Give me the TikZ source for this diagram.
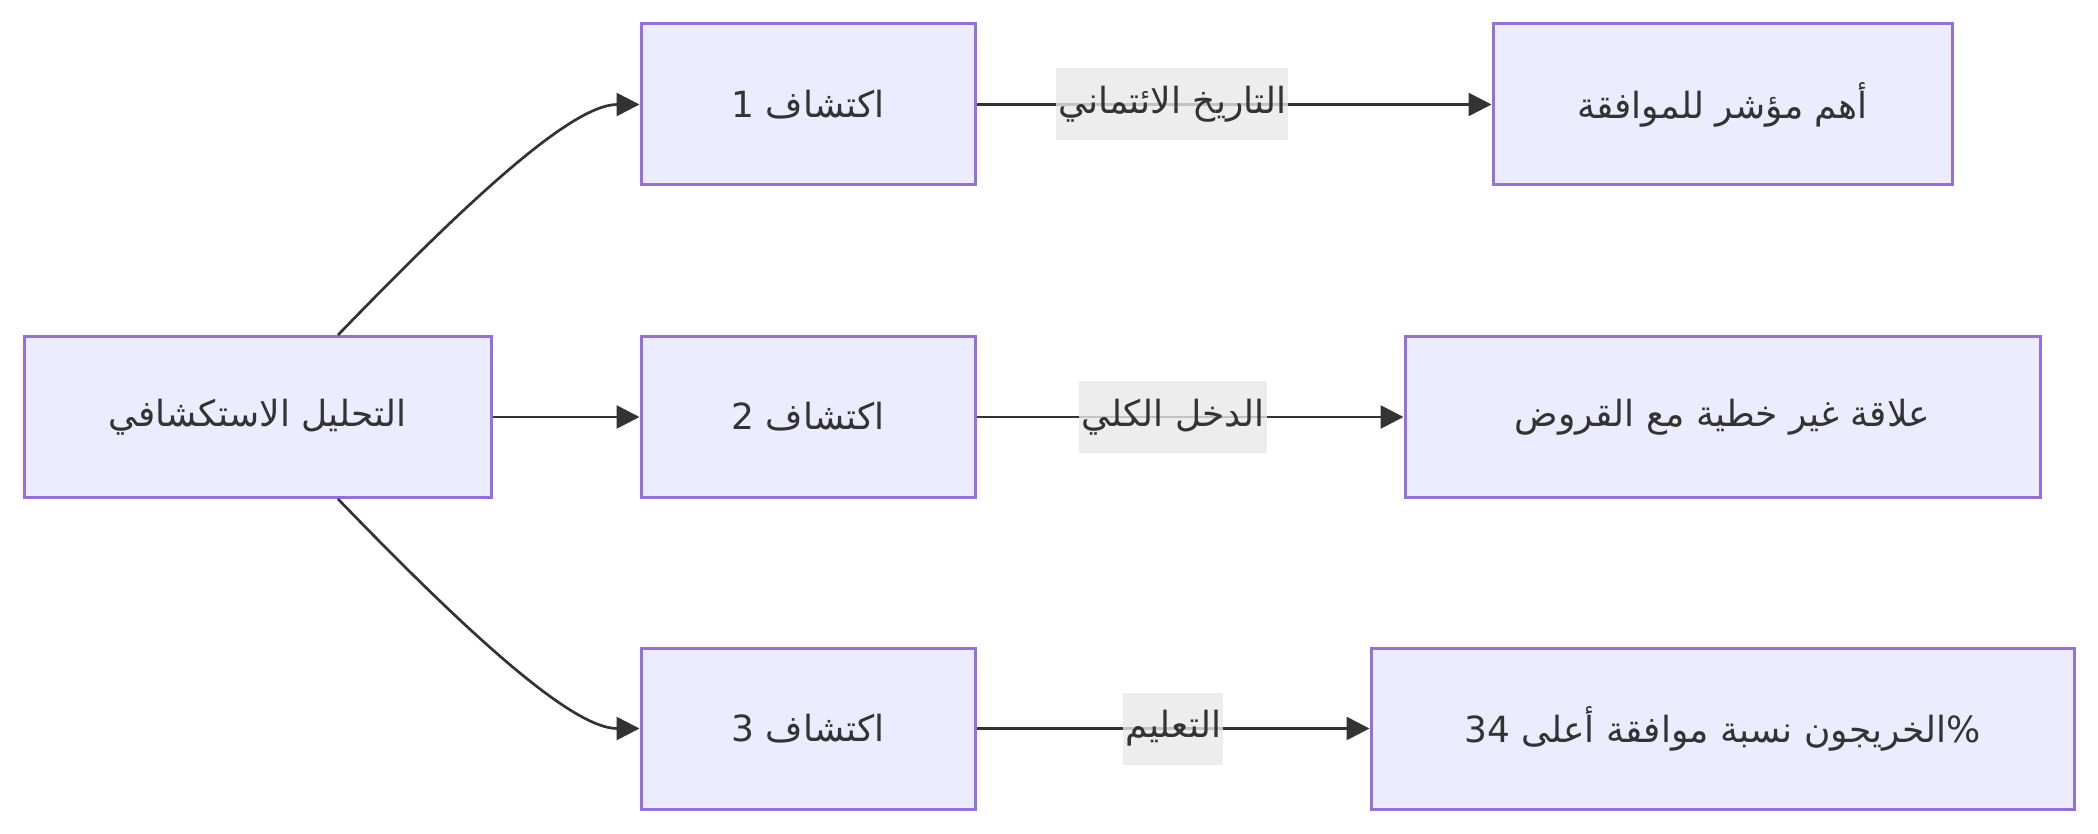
\documentclass[tikz,border=0pt]{standalone}
\usepackage{fontspec}
\newfontfamily\arabicfont[Script=Arabic]{DejaVu Sans}
\TeXXeTstate=1
\usetikzlibrary{arrows.meta}
\definecolor{boxfill}{HTML}{ECECFF}
\definecolor{boxline}{HTML}{9370DB}
\definecolor{edgeline}{HTML}{333333}
\definecolor{labelfill}{HTML}{E8E8E8}
\newcommand{\artext}[1]{\beginR #1\endR}
\tikzset{
  box/.style={draw=boxline, fill=boxfill, line width=1.5pt, text=edgeline,
    minimum height=80.5pt, inner sep=0pt, font=\arabicfont\fontsize{18}{22}\selectfont},
  link/.style={draw=edgeline, line width=1.35pt, -{Triangle[length=11.5pt,width=11.5pt]}},
  tag/.style={fill=labelfill, fill opacity=0.8, text opacity=1, text=edgeline,
    inner xsep=1pt, inner ysep=0pt, minimum height=36pt, font=\arabicfont\fontsize{18}{22}\selectfont}
}
\begin{document}
\begin{tikzpicture}[x=0.5pt,y=-0.5pt]
  \useasboundingbox (0,0) rectangle (2098,834);
  % left node
  \node[box, minimum width=233.5pt] (root) at (257.5,417) {\artext{التحليل الاستكشافي}};
  % middle column
  \node[box, minimum width=167pt] (d1) at (808,104.5) {\artext{اكتشاف 1}};
  \node[box, minimum width=167pt] (d2) at (808,417) {\artext{اكتشاف 2}};
  \node[box, minimum width=167pt] (d3) at (808,728.5) {\artext{اكتشاف 3}};
  % right column
  \node[box, minimum width=229.5pt] (r1) at (1722.5,104.5) {\artext{أهم مؤشر للموافقة}};
  \node[box, minimum width=317.5pt] (r2) at (1722.5,417) {\artext{علاقة غير خطية مع القروض}};
  \node[box, minimum width=351.5pt] (r3) at (1722.5,728.5) {\artext{\%الخريجون نسبة موافقة أعلى \beginL 34\endL}};

  \draw[link] ([xshift=40.25pt]root.north) .. controls +(120,-124) and +(-70,0) .. (d1.west);
  \draw[link] (root) -- (d2);
  \draw[link] ([xshift=40.25pt]root.south) .. controls +(120,124) and +(-70,0) .. (d3.west);

  \draw[link] (d1) -- node[tag, pos=0.38] {\artext{التاريخ الائتماني}} (r1);
  \draw[link] (d2) -- node[tag, pos=0.46] {\artext{الدخل الكلي}} (r2);
  \draw[link] (d3) -- node[tag, pos=0.5] {\artext{التعليم}} (r3);
\end{tikzpicture}
\end{document}
